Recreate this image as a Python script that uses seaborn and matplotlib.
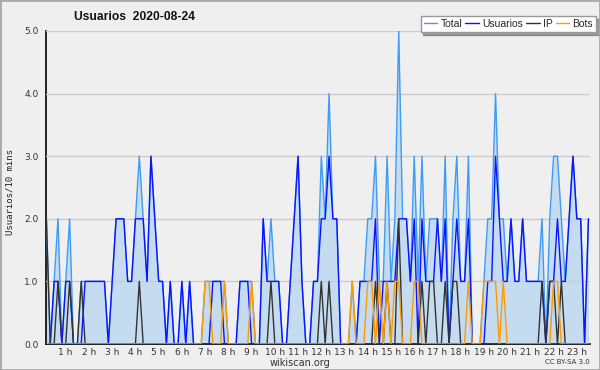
"""
Daily activity chart (wikiscan style): users per 10-minute slot.
"""

import matplotlib
matplotlib.use("Agg")
import matplotlib.pyplot as plt
import matplotlib.transforms as mtransforms
import pandas as pd
import seaborn as sns
from matplotlib.patches import Rectangle
from matplotlib.ticker import FixedLocator, MultipleLocator

sns.set_style("white")
plt.rcParams["font.family"] = ["DejaVu Sans"]

# one value per 10-minute slot, from 00:00 onward
total = [
    2, 0, 1, 2, 0, 1, 2, 0, 0, 1,
    1, 1, 1, 1, 1, 1, 0, 1, 2, 2,
    2, 1, 1, 2, 3, 2, 1, 3, 2, 1,
    1, 0, 1, 0, 0, 1, 0, 1, 0, 0,
    0, 1, 1, 1, 1, 1, 1, 0, 0, 0,
    1, 1, 1, 1, 0, 0, 2, 1, 2, 1,
    1, 0, 0, 1, 2, 3, 1, 0, 0, 1,
    1, 3, 2, 4, 2, 2, 0, 0, 0, 1,
    0, 1, 1, 2, 2, 3, 1, 1, 3, 1,
    2, 5, 2, 2, 1, 3, 1, 3, 1, 2,
    2, 2, 1, 3, 0, 2, 3, 1, 1, 3,
    0, 0, 0, 1, 2, 2, 4, 2, 2, 1,
    2, 1, 1, 2, 1, 1, 1, 1, 2, 0,
    2, 3, 3, 2, 1, 2, 3, 2, 2, 0, 2,
]
usuarios = [
    0, 0, 1, 1, 0, 1, 1, 0, 0, 0,
    1, 1, 1, 1, 1, 1, 0, 1, 2, 2,
    2, 1, 1, 2, 2, 2, 1, 3, 2, 1,
    1, 0, 1, 0, 0, 1, 0, 1, 0, 0,
    0, 0, 0, 1, 1, 1, 0, 0, 0, 0,
    1, 1, 1, 0, 0, 0, 2, 1, 1, 1,
    1, 0, 0, 1, 2, 3, 1, 0, 0, 1,
    1, 2, 2, 3, 2, 2, 0, 0, 0, 0,
    0, 1, 1, 1, 1, 2, 0, 1, 1, 1,
    1, 2, 2, 2, 1, 2, 0, 2, 1, 1,
    1, 2, 1, 2, 0, 1, 2, 1, 1, 2,
    0, 0, 0, 0, 1, 1, 3, 2, 1, 1,
    2, 1, 1, 2, 1, 1, 1, 1, 1, 0,
    1, 1, 2, 1, 1, 2, 3, 2, 2, 0, 2,
]
ip = [
    2, 0, 0, 1, 0, 0, 1, 0, 0, 1,
    0, 0, 0, 0, 0, 0, 0, 0, 0, 0,
    0, 0, 0, 0, 1, 0, 0, 0, 0, 0,
    0, 0, 0, 0, 0, 0, 0, 0, 0, 0,
    0, 0, 0, 0, 0, 0, 0, 0, 0, 0,
    0, 0, 0, 0, 0, 0, 0, 0, 1, 0,
    0, 0, 0, 0, 0, 0, 0, 0, 0, 0,
    0, 1, 0, 1, 0, 0, 0, 0, 0, 0,
    0, 0, 0, 0, 0, 1, 0, 0, 1, 0,
    0, 2, 0, 0, 0, 0, 0, 1, 0, 1,
    1, 0, 0, 1, 0, 1, 1, 0, 0, 0,
    0, 0, 0, 0, 0, 0, 0, 0, 0, 0,
    0, 0, 0, 0, 0, 0, 0, 0, 1, 0,
    1, 1, 0, 1, 0, 0, 0, 0, 0, 0, 0,
]
bots = [
    0, 0, 0, 0, 0, 0, 0, 0, 0, 0,
    0, 0, 0, 0, 0, 0, 0, 0, 0, 0,
    0, 0, 0, 0, 0, 0, 0, 0, 0, 0,
    0, 0, 0, 0, 0, 0, 0, 0, 0, 0,
    0, 1, 1, 0, 0, 0, 1, 0, 0, 0,
    0, 0, 0, 1, 0, 0, 0, 0, 0, 0,
    0, 0, 0, 0, 0, 0, 0, 0, 0, 0,
    0, 0, 0, 0, 0, 0, 0, 0, 0, 1,
    0, 0, 0, 1, 1, 0, 1, 0, 1, 0,
    1, 1, 0, 0, 0, 1, 1, 0, 0, 0,
    0, 0, 0, 0, 0, 0, 0, 0, 0, 1,
    0, 0, 0, 1, 1, 1, 1, 0, 1, 0,
    0, 0, 0, 0, 0, 0, 0, 0, 0, 0,
    0, 1, 1, 0, 0, 0, 0, 0, 0, 0, 0,
]
hours = list(range(1, 24))
hour_labels = [f"{h} h" for h in hours]
y_labels = ["0.0", "1.0", "2.0", "3.0", "4.0", "5.0"]

df = pd.DataFrame({
    "slot": range(len(total)),
    "Total": total,
    "Usuarios": usuarios,
    "IP": ip,
    "Bots": bots,
})

BG = "#efefef"
NARROW = ["Liberation Sans Narrow", "Liberation Sans", "DejaVu Sans"]
colors = {"Total": "#3d9cf5", "Usuarios": "#0a14ff", "IP": "#333333", "Bots": "#ff9a00"}

fig = plt.figure(figsize=(6, 3.7), dpi=100, facecolor=BG)
ax = fig.add_axes([46 / 600, 26 / 370, 544 / 600, 313 / 370])
ax.set_facecolor(BG)

# area under the total
ax.fill_between(df["slot"], df["Total"], color="#c5dcf0", lw=0, zorder=1)

for i, name in enumerate(["Total", "Usuarios", "IP", "Bots"]):
    sns.lineplot(data=df, x="slot", y=name, color=colors[name], lw=1.0,
                 ax=ax, label=name, zorder=3 + i)

ax.set_xlim(-0.1, 140.4)
ax.set_ylim(0, 5)
ax.set_xlabel("")
ax.set_ylabel("")

# y axis
ax.yaxis.set_major_locator(FixedLocator(range(len(y_labels))))
ax.set_yticklabels(y_labels)
ax.yaxis.set_minor_locator(MultipleLocator(0.25))
ax.yaxis.grid(True, which="major", color="#cccccc", lw=1, zorder=2)
ax.set_axisbelow(False)

# x axis: hour labels, one small tick per slot
ax.set_xticks([6 * h for h in hours])
ax.set_xticklabels(hour_labels)
ax.xaxis.set_minor_locator(MultipleLocator(1))

ax.tick_params(axis="y", which="major", direction="out", length=4, width=1,
               labelsize=6.5, labelcolor="#333333", pad=1.5, color="black")
ax.tick_params(axis="x", which="major", direction="out", length=3.5, width=1,
               labelsize=6.5, labelcolor="#333333", pad=-0.5, color="black")
ax.tick_params(axis="both", which="minor", direction="out", length=2.5, width=1,
               color="black")

# hour labels sit a few pixels left of their tick
shift = mtransforms.ScaledTranslation(-4 / 100, 0, fig.dpi_scale_trans)
for lbl in ax.get_xticklabels():
    lbl.set_transform(lbl.get_transform() + shift)

for side in ["top", "right"]:
    ax.spines[side].set_visible(False)
for side in ["left", "bottom"]:
    ax.spines[side].set_color("black")
    ax.spines[side].set_linewidth(1.2)

# legend box with a shadow, top right
leg = ax.legend(loc="upper right", bbox_to_anchor=(596 / 600, 1 - 16 / 370),
                bbox_transform=fig.transFigure, ncol=4, frameon=True,
                fancybox=False, shadow=True, handlelength=1.3,
                handletextpad=0.3, columnspacing=0.3, borderpad=0.3,
                borderaxespad=0, prop={"family": NARROW, "size": 7.5})
leg.get_frame().set_edgecolor("#999999")
leg.get_frame().set_facecolor("white")
leg.get_frame().set_linewidth(1)
for line in leg.get_lines():
    line.set_linewidth(1.0)

# texts
fig.text(74 / 600, 1 - 17 / 370, "Usuarios  2020-08-24", fontsize=8.7,
         fontweight="bold", va="center", ha="left", color="#111111",
         family=NARROW)
fig.text(10 / 600, 1 - 192 / 370, "Usuarios/10 mins", rotation=90,
         fontsize=6.5, va="center", ha="center", family="DejaVu Sans Mono",
         color="#222222")
fig.text(300 / 600, 1 - 363 / 370, "wikiscan.org", fontsize=7,
         va="center", ha="center", color="#333333")
fig.text(590 / 600, 1 - 362 / 370, "CC BY-SA 3.0", fontsize=5,
         va="center", ha="right", color="#333333")

# outer border
fig.add_artist(Rectangle((0, 0), 1, 1, transform=fig.transFigure, fill=False,
                         ec="#aaaaaa", lw=2))

fig.savefig("out.png", dpi=100, facecolor=fig.get_facecolor())
